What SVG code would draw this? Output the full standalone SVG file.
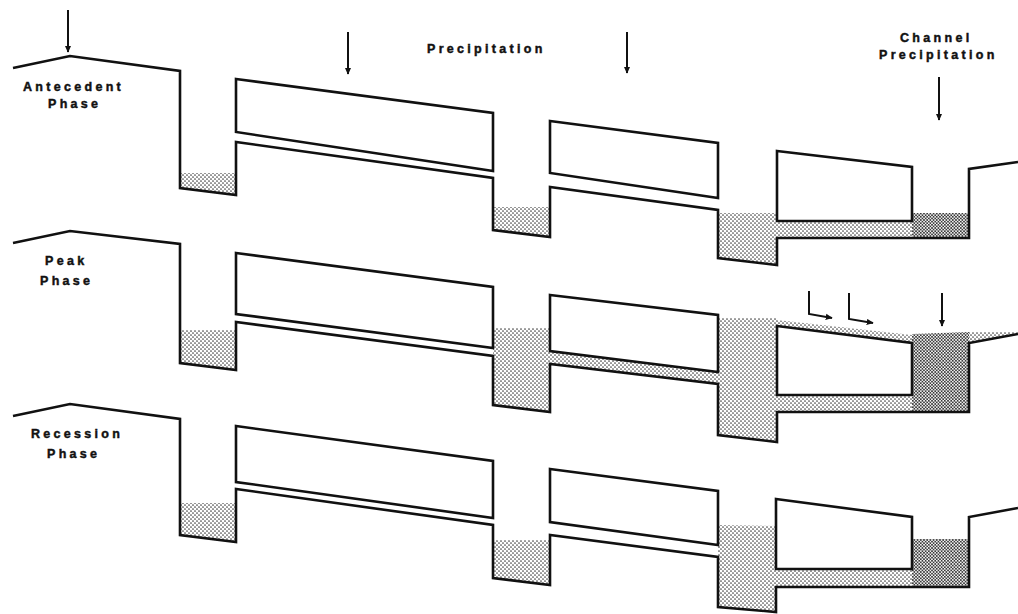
<svg xmlns="http://www.w3.org/2000/svg" width="1018" height="614" viewBox="0 0 1018 614">
  <style>
    .ground { fill: none; stroke: #111; stroke-width: 2.6; stroke-linejoin: miter; }
    .box { fill: #fff; stroke: #111; stroke-width: 2.6; stroke-linejoin: miter; }
    .water { fill: url(#stipple); stroke: none; }
    .water-dense { fill: url(#stipple-dense); stroke: none; }
    .label { font-family: "Liberation Sans", Arial, sans-serif; font-weight: bold; font-size: 12.5px; letter-spacing: 3.3px; fill: #111; stroke: #111; stroke-width: 0.45; }
    .arrow { fill: none; stroke: #111; stroke-width: 2; marker-end: url(#ah); }
  </style>
  <defs>
    <pattern id="stipple" width="4" height="4" patternUnits="userSpaceOnUse">
      <rect width="4" height="4" fill="#fff"/>
      <circle cx="1" cy="1" r="0.85" fill="#444"/>
      <circle cx="3" cy="3" r="0.85" fill="#444"/>
    </pattern>
    <pattern id="stipple-dense" width="3.2" height="3.2" patternUnits="userSpaceOnUse">
      <rect width="3.2" height="3.2" fill="#fff"/>
      <circle cx="0.8" cy="0.8" r="0.95" fill="#333"/>
      <circle cx="2.4" cy="2.4" r="0.95" fill="#333"/>
    </pattern>
    <marker id="ah" viewBox="0 0 10 10" refX="9" refY="5" markerWidth="7" markerHeight="7" markerUnits="userSpaceOnUse" orient="auto">
      <path d="M0,0.5 L10,5 L0,9.5 Z" fill="#111"/>
    </marker>
  </defs>
  <rect width="1018" height="614" fill="#fff"/>

  <!-- Antecedent phase -->
  <g id="panel-antecedent">
    <g id="antecedent-water">
      <polygon class="water" points="180,173 236,173 236,195 180,188"/>
      <polygon class="water" points="493,207 550,207 550,237 493,230"/>
      <polygon class="water" points="718,213 912,213 912,238 777,238 777,265 718,258"/>
      <polygon class="water-dense" points="912,213 969,213 969,238 912,238"/>
    </g>
    <polygon id="antecedent-block1" class="box" points="236,79 493,113 493,171 236,132"/>
    <polygon id="antecedent-block2" class="box" points="550,121 718,143 718,198 550,173"/>
    <polygon id="antecedent-block3" class="box" points="777,151 912,167 912,221 777,221"/>
    <path id="antecedent-ground" class="ground" d="M13,68 L70,56 L180,71 L180,188 L236,195 L236,142 L493,178 L493,230 L550,237 L550,187 L718,210 L718,258 L777,265 L777,238 L969,238 L969,169 L1018,162"/>
    <text class="label" x="23" y="91">Antecedent</text>
    <text class="label" x="48" y="108">Phase</text>
  </g>

  <!-- Peak phase -->
  <g id="panel-peak">
    <g id="peak-water">
      <polygon class="water" points="180,330 236,330 236,370 180,363"/>
      <polygon class="water" points="493,328 718,328 718,318 777,318 777,320 912,335 969,332 1018,332 1018,334 969,343 969,412 777,412 777,442 718,435 718,384 550,364 550,412 493,405"/>
      <polygon class="water-dense" points="912,334 969,332 969,412 912,412"/>
    </g>
    <polygon id="peak-block1" class="box" points="236,253 493,287 493,348 236,314"/>
    <polygon id="peak-block2" class="box" points="550,295 718,315 718,372 550,351"/>
    <polygon id="peak-block3" class="box" points="777,326 912,343 912,395 777,395"/>
    <path id="peak-ground" class="ground" d="M13,243 L70,231 L180,244 L180,363 L236,370 L236,322 L493,356 L493,405 L550,412 L550,364 L718,384 L718,435 L777,442 L777,412 L969,412 L969,343 L1018,334"/>
    <text class="label" x="45" y="265">Peak</text>
    <text class="label" x="40" y="285">Phase</text>
  </g>

  <!-- Recession phase -->
  <g id="panel-recession">
    <g id="recession-water">
      <polygon class="water" points="180,503 236,503 236,542 180,535"/>
      <polygon class="water" points="493,540 550,540 550,585 493,578"/>
      <polygon class="water" points="718,525 912,528 912,587 776,587 776,612 718,607"/>
      <polygon class="water-dense" points="912,539 969,539 969,587 912,587"/>
    </g>
    <polygon id="recession-block1" class="box" points="236,426 493,461 493,518 236,482"/>
    <polygon id="recession-block2" class="box" points="550,469 718,491 718,545 550,522"/>
    <polygon id="recession-block3" class="box" points="776,499 912,517 912,569 776,569"/>
    <path id="recession-ground" class="ground" d="M13,416 L70,404 L180,419 L180,535 L236,542 L236,489 L493,525 L493,578 L550,585 L550,535 L718,557 L718,607 L776,612 L776,587 L969,587 L969,517 L1018,508"/>
    <text class="label" x="31" y="438">Recession</text>
    <text class="label" x="47" y="458">Phase</text>
  </g>

  <!-- Precipitation labels -->
  <g id="precipitation-labels">
    <text class="label" x="427" y="53">Precipitation</text>
    <text class="label" x="900" y="42">Channel</text>
    <text class="label" x="879" y="59">Precipitation</text>
  </g>

  <!-- Arrows -->
  <g id="connectors">
    <line class="arrow" x1="68" y1="10" x2="68" y2="52"/>
    <line class="arrow" x1="348" y1="32" x2="348" y2="74"/>
    <line class="arrow" x1="627" y1="32" x2="627" y2="73"/>
    <line class="arrow" x1="939" y1="77" x2="939" y2="120"/>
    <polyline class="arrow" points="809,291 809,314 832,318"/>
    <polyline class="arrow" points="849,293 849,319 873,323"/>
    <line class="arrow" x1="942" y1="293" x2="942" y2="326"/>
  </g>
</svg>
